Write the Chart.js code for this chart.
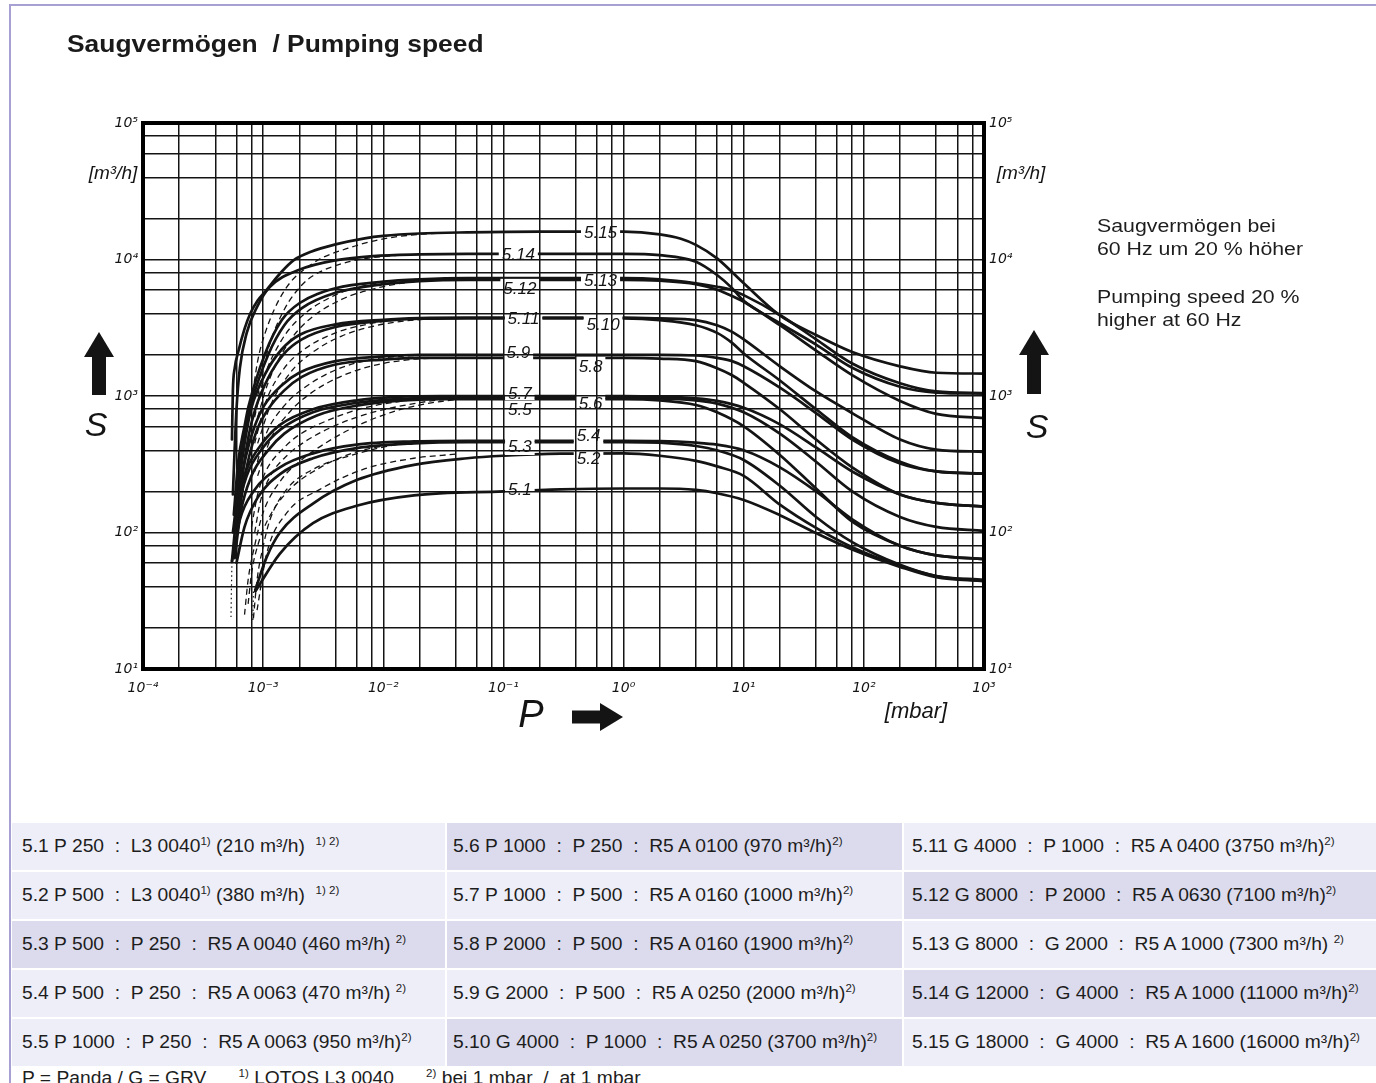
<!DOCTYPE html>
<html lang="de">
<head>
<meta charset="utf-8">
<title>Saugvermögen / Pumping speed</title>
<script src="https://cdn.jsdelivr.net/npm/chart.js@4.4.1/dist/chart.umd.min.js"></script>
<style>
  html, body { margin:0; padding:0; background:#fff; }
  body { width:1376px; height:1083px; overflow:hidden; position:relative;
         font-family:"Liberation Sans", Arial, sans-serif; color:#1d1d1d; }
  #frame { position:absolute; left:9px; top:4px; width:1400px; height:1200px;
           border-left:2px solid #a7a1d3; border-top:2px solid #a7a1d3; }
  #plot { position:absolute; left:0; top:0; }
  .txt { position:absolute; white-space:pre; transform-origin:0 0; }
  #title { left:67px; top:32px; font-size:24px; line-height:24px; font-weight:bold;
           transform:scaleX(1.1); color:#1a1a1a; }
  .note { left:1097px; font-size:18.7px; line-height:23.4px; transform:scaleX(1.14); }
  .cell { position:absolute; height:47px; display:flex; align-items:center; box-sizing:border-box; }
  .cell span { white-space:pre; font-size:17.5px; transform:scaleX(1.1); transform-origin:0 50%;
               display:inline-block; }
  .light { background:#eeeef8; }
  .dark  { background:#dcdbee; }
  sup { font-size:10.5px; vertical-align:7px; line-height:0; }
  #foot { left:22px; top:1068px; font-size:17.5px; line-height:20px; transform:scaleX(1.1); }
</style>
</head>
<body>
<div id="frame"></div>
<canvas id="plot" width="1376" height="800"></canvas>
<div id="title" class="txt">Saugvermögen  / Pumping speed</div>
<div class="txt note" style="top:213.5px">Saugvermögen bei
60 Hz um 20 % höher</div>
<div class="txt note" style="top:285px">Pumping speed 20 %
higher at 60 Hz</div>
<div id="table"></div>
<div id="foot" class="txt">P = Panda / G = GRV      <sup>1)</sup> LOTOS L3 0040      <sup>2)</sup> bei 1 mbar  /  at 1 mbar</div>

<script>
// ---------------------------------------------------------------------------
// Pumping speed S [m³/h] over inlet pressure P [mbar] – points as [P, S]
// ---------------------------------------------------------------------------
const curve5_1 = [[8.6e-4,37],[1.38e-3,70],[2.6e-3,117],[6e-3,157],[1.8e-2,187],[0.1,200],[0.3,207],[1,210],
  [2,210],[4,205],[6,194],[10,173],[20,134],[40,99],[80,75],[200,56],[400,47],[1000,44]];
const curve5_2 = [[8.6e-4,38],[1.07e-3,66],[1.38e-3,100],[2.6e-3,163],[6e-3,242],[1.8e-2,313],[5e-2,350],[0.1,365],[0.3,378],[1,380],
  [2,365],[4,335],[6,305],[10,260],[20,160],[40,108],[80,78],[200,57],[400,48],[1000,44]];
const curve5_3 = [[6e-4,60],[7e-4,110],[9e-4,180],[1.4e-3,270],[2.6e-3,350],[6e-3,415],[1.8e-2,450],[5e-2,460],[1,460],
  [2,455],[4,430],[6,400],[10,340],[20,220],[40,130],[80,85],[200,58],[400,48],[1000,45]];
const curve5_4 = [[5.5e-4,61],[6.4e-4,124],[8.3e-4,200],[1.38e-3,300],[2.6e-3,380],[6e-3,440],[1.8e-2,465],[5e-2,470],[1,470],
  [2,468],[4,455],[6,440],[10,400],[20,300],[40,200],[80,125],[200,80],[400,68],[1000,64]];
const curve5_5 = [[5.8e-4,65],[6.5e-4,140],[8e-4,260],[1.1e-3,400],[1.5e-3,530],[2.8e-3,720],[6e-3,850],[1.3e-2,920],[3e-2,950],[1,950],
  [2,930],[4,860],[6,760],[10,600],[20,370],[40,210],[80,120],[200,80],[400,68],[1000,64]];
const curve5_6 = [[5.5e-4,62],[6e-4,130],[7.3e-4,260],[1e-3,420],[1.4e-3,570],[2.6e-3,760],[6e-3,890],[1.3e-2,950],[3e-2,970],[1,970],
  [2,960],[4,930],[6,880],[10,760],[20,530],[40,330],[80,200],[200,130],[400,110],[1000,103]];
const curve5_7 = [[5.6e-4,100],[6e-4,160],[7.3e-4,290],[1e-3,460],[1.4e-3,620],[2.6e-3,800],[6e-3,930],[1.3e-2,985],[3e-2,1000],[1,1000],
  [2,990],[4,960],[6,920],[10,820],[20,620],[40,420],[80,280],[200,190],[400,165],[1000,155]];
const curve5_8 = [[6e-4,100],[7e-4,250],[8e-4,420],[9e-4,580],[1.1e-3,800],[1.5e-3,1100],[2.1e-3,1380],[4e-3,1700],[1e-2,1850],[2e-2,1900],[1,1900],
  [2,1880],[4,1800],[6,1600],[8,1420],[10,1250],[20,800],[40,480],[80,300],[200,190],[400,165],[1000,155]];
const curve5_9 = [[5.8e-4,100],[6.5e-4,230],[7.5e-4,420],[8.5e-4,600],[1.02e-3,850],[1.43e-3,1200],[2e-3,1480],[4e-3,1800],[1e-2,1950],[2e-2,2000],[1,2000],
  [2,2000],[4,1980],[6,1900],[8,1800],[10,1650],[20,1150],[40,750],[80,480],[200,320],[400,280],[1000,270]];
const curve5_10 = [[6e-4,100],[6.8e-4,280],[7.6e-4,520],[8.6e-4,800],[1.1e-3,1350],[1.5e-3,2050],[2.1e-3,2600],[4e-3,3200],[1e-2,3550],[2e-2,3680],[5e-2,3700],[1,3700],
  [2,3600],[4,3300],[6,2900],[8,2450],[10,2050],[20,1300],[40,800],[80,500],[200,330],[400,280],[1000,270]];
const curve5_11 = [[5.8e-4,100],[6.5e-4,280],[7.2e-4,520],[8e-4,820],[1.04e-3,1450],[1.43e-3,2200],[2e-3,2800],[4e-3,3350],[1e-2,3620],[2e-2,3720],[5e-2,3750],[1,3750],
  [2,3700],[4,3600],[6,3300],[8,2950],[10,2600],[20,1650],[40,1080],[80,750],[200,480],[400,405],[1000,390]];
const curve5_12 = [[5.8e-4,140],[6.4e-4,330],[7.3e-4,650],[8e-4,900],[1.1e-3,2000],[1.5e-3,3300],[2.1e-3,4400],[4e-3,5700],[1e-2,6600],[2e-2,6950],[5e-2,7100],[1,7100],
  [2,7000],[4,6600],[6,6000],[8,5400],[10,4900],[20,3300],[40,2150],[80,1420],[200,920],[400,740],[1000,690]];
const curve5_13 = [[5.7e-4,135],[6.2e-4,330],[7e-4,600],[7.55e-4,835],[1.04e-3,2050],[1.43e-3,3600],[2e-3,4780],[4e-3,6150],[1e-2,6880],[2e-2,7150],[5e-2,7300],[1,7300],
  [2,7160],[4,6700],[6,6320],[8,5960],[10,5480],[20,3920],[40,2600],[80,1730],[200,1240],[400,1080],[1000,1050]];
const curve5_14 = [[5.6e-4,190],[5.8e-4,420],[6e-4,800],[6.4e-4,1600],[7.3e-4,2900],[8.9e-4,4500],[1.14e-3,6300],[2e-3,8400],[4.1e-3,9900],[8.2e-3,10600],[2e-2,10900],[5e-2,11000],[1,11000],
  [2,10750],[4,9640],[6,7700],[8,6170],[10,4980],[20,3420],[40,2380],[80,1610],[200,1170],[400,1060],[1000,1040]];
const curve5_15 = [[5.5e-4,480],[5.6e-4,1100],[5.8e-4,1600],[6.2e-4,2100],[7e-4,3100],[7.8e-4,4000],[9e-4,5000],[1.07e-3,6000],[1.4e-3,8000],[1.8e-3,9900],[2.5e-3,11400],[4e-3,12900],[7e-3,14300],[1e-2,14900],[2e-2,15500],[5e-2,15800],[0.2,16000],[1,16000],
  [2,15300],[3,14200],[4,12800],[6,10200],[10,6700],[20,3900],[40,2800],[80,2100],[200,1650],[400,1480],[1000,1460]];

// alternative run-up curves (dashed)
const runup5_2  = [[8.9e-4,27],[1.07e-3,70],[1.57e-3,139],[2.97e-3,207],[6.8e-3,290],[1.8e-2,350],[4e-2,375]];
const runup5_3  = [[8.3e-4,23.5],[8.9e-4,45],[1e-3,79],[1.14e-3,124],[1.57e-3,207],[2.6e-3,290],[5e-3,360],[1.3e-2,440],[2.5e-2,460]];
const runup5_4  = [[7.5e-4,30],[8e-4,50],[9e-4,80],[1.1e-3,125],[1.6e-3,200],[3e-3,300],[6e-3,390],[1.2e-2,440],[2.5e-2,465]];
const runup5_5  = [[7e-4,25],[7.5e-4,45],[8.5e-4,80],[1e-3,140],[1.4e-3,240],[2e-3,330],[3.7e-3,480],[7e-3,640],[1.35e-2,790],[2.5e-2,890],[4e-2,940]];
const runup5_6  = [[8.5e-4,100],[9.5e-4,170],[1.15e-3,260],[1.6e-3,370],[2.2e-3,460],[3.7e-3,590],[7e-3,730],[1.35e-2,840],[2.5e-2,920],[4e-2,960]];
const runup5_7  = [[8e-4,110],[9e-4,190],[1.05e-3,280],[1.5e-3,420],[2e-3,520],[3.7e-3,680],[7e-3,820],[1.35e-2,910],[2.5e-2,970],[4e-2,1000]];
const runup5_8  = [[9e-4,260],[1.15e-3,480],[1.7e-3,780],[2.5e-3,1050],[4.5e-3,1400],[9e-3,1700],[1.8e-2,1860],[3e-2,1900]];
const runup5_9  = [[8.5e-4,280],[1.05e-3,520],[1.5e-3,850],[2.2e-3,1150],[4e-3,1550],[8e-3,1850],[1.5e-2,1960],[2.5e-2,2000]];
const runup5_10 = [[9e-4,450],[1.15e-3,850],[1.7e-3,1500],[2.5e-3,2050],[4.5e-3,2750],[9e-3,3300],[1.8e-2,3600],[3e-2,3690]];
const runup5_11 = [[8.5e-4,450],[1.05e-3,900],[1.5e-3,1600],[2.2e-3,2200],[4e-3,2900],[8e-3,3400],[1.5e-2,3650],[2.5e-2,3730]];
const runup5_12 = [[9e-4,700],[1.1e-3,1250],[1.6e-3,2400],[2.3e-3,3500],[4.5e-3,5100],[9e-3,6200],[1.6e-2,6800],[2.5e-2,7050]];
const runup5_13 = [[8.5e-4,700],[1e-3,1300],[1.4e-3,2500],[2e-3,3700],[4e-3,5500],[8e-3,6600],[1.5e-2,7050],[2.5e-2,7250]];
const runup5_14 = [[9e-4,1000],[1.1e-3,2200],[1.5e-3,4300],[2.1e-3,6500],[2.6e-3,7600],[5.1e-3,9600],[1.1e-2,10600],[2.5e-2,10950]];
const runup5_15 = [[8e-4,900],[9e-4,1800],[1.04e-3,2900],[1.48e-3,5800],[2.6e-3,9400],[5.1e-3,12100],[9.8e-3,14100],[2e-2,15300],[3.5e-2,15700]];

// lower ends of the run-up curves (dotted)
const tailA = [[5.5e-4,61],[5.45e-4,40],[5.4e-4,24]];
const tailB = [[8.3e-4,37],[8.25e-4,28],[8.2e-4,22]];

const curveNames  = ['5.1','5.2','5.3','5.4','5.5','5.6','5.7','5.8','5.9','5.10','5.11','5.12','5.13','5.14','5.15'];
const ratedSpeed  = [210,380,460,470,950,970,1000,1900,2000,3700,3750,7100,7300,11000,16000]; // m³/h at 1 mbar
const pTickLabels = ['10⁻⁴','10⁻³','10⁻²','10⁻¹','10⁰','10¹','10²','10³'];
const sTickLabels = ['10¹','10²','10³','10⁴','10⁵'];

const solidCurves  = [curve5_1,curve5_2,curve5_3,curve5_4,curve5_5,curve5_6,curve5_7,curve5_8,
                      curve5_9,curve5_10,curve5_11,curve5_12,curve5_13,curve5_14,curve5_15];
const dashedCurves = [runup5_2,runup5_3,runup5_4,runup5_5,runup5_6,runup5_7,runup5_8,
                      runup5_9,runup5_10,runup5_11,runup5_12,runup5_13,runup5_14,runup5_15];
const dottedCurves = [tailA, tailB];

// where each curve name sits on its line: pressure, pixel shift
const tagPlacement = [
  {i:0,  p:0.137, dy:1},  {i:1,  p:0.511, dy:5},  {i:2,  p:0.137, dy:4},
  {i:3,  p:0.511, dy:-5}, {i:4,  p:0.137, dy:10}, {i:5,  p:0.531, dy:5},
  {i:6,  p:0.137, dy:-3}, {i:7,  p:0.531, dy:8},  {i:8,  p:0.133, dy:-3},
  {i:9,  p:0.675, dy:6},  {i:10, p:0.147, dy:1},  {i:11, p:0.137, dy:8},
  {i:12, p:0.643, dy:2},  {i:13, p:0.133, dy:0},  {i:14, p:0.643, dy:1}
];

// ---- table below the diagram ----
const tableRows = [
  ['5.1 P 250  :  L3 0040<sup>1)</sup> (210 m³/h)  <sup>1) 2)</sup>',
   '5.6 P 1000  :  P 250  :  R5 A 0100 (970 m³/h)<sup>2)</sup>',
   '5.11 G 4000  :  P 1000  :  R5 A 0400 (3750 m³/h)<sup>2)</sup>'],
  ['5.2 P 500  :  L3 0040<sup>1)</sup> (380 m³/h)  <sup>1) 2)</sup>',
   '5.7 P 1000  :  P 500  :  R5 A 0160 (1000 m³/h)<sup>2)</sup>',
   '5.12 G 8000  :  P 2000  :  R5 A 0630 (7100 m³/h)<sup>2)</sup>'],
  ['5.3 P 500  :  P 250  :  R5 A 0040 (460 m³/h) <sup>2)</sup>',
   '5.8 P 2000  :  P 500  :  R5 A 0160 (1900 m³/h)<sup>2)</sup>',
   '5.13 G 8000  :  G 2000  :  R5 A 1000 (7300 m³/h) <sup>2)</sup>'],
  ['5.4 P 500  :  P 250  :  R5 A 0063 (470 m³/h) <sup>2)</sup>',
   '5.9 G 2000  :  P 500  :  R5 A 0250 (2000 m³/h)<sup>2)</sup>',
   '5.14 G 12000  :  G 4000  :  R5 A 1000 (11000 m³/h)<sup>2)</sup>'],
  ['5.5 P 1000  :  P 250  :  R5 A 0063 (950 m³/h)<sup>2)</sup>',
   '5.10 G 4000  :  P 1000  :  R5 A 0250 (3700 m³/h)<sup>2)</sup>',
   '5.15 G 18000  :  G 4000  :  R5 A 1600 (16000 m³/h)<sup>2)</sup>']
];
const cellShade = [['light','dark','light'],['light','light','dark'],['dark','dark','light'],
                   ['light','light','dark'],['light','dark','light']];
const colLeft = [12, 447, 904], colWidth = [433, 455, 472], colPad = [10, 6, 8];
const rowTop = [823, 872, 921, 970, 1019];

const tbl = document.getElementById('table');
tableRows.forEach((row, r) => row.forEach((html, c) => {
  const d = document.createElement('div');
  d.className = 'cell ' + cellShade[r][c];
  d.style.left = colLeft[c] + 'px'; d.style.top = rowTop[r] + 'px';
  d.style.width = colWidth[c] + 'px'; d.style.paddingLeft = colPad[c] + 'px';
  d.innerHTML = '<span>' + html + '</span>';
  tbl.appendChild(d);
}));

// ---- grid positions: 1, 2, 4, 6, 8 per decade ----
const gridMantissas = [1, 2, 4, 6, 8];
function gridValues(e0, e1) {
  const v = [];
  for (let e = e0; e < e1; e++) for (const m of gridMantissas) v.push(m * Math.pow(10, e));
  v.push(Math.pow(10, e1));
  return v;
}
function decadeValues(e0, e1) {
  const v = [];
  for (let e = e0; e <= e1; e++) v.push(Math.pow(10, e));
  return v;
}
function decadeLabel(value, labels, e0) {
  const e = Math.log10(value), r = Math.round(e);
  return Math.abs(e - r) < 1e-6 ? labels[r - e0] : '';
}

const toXY = pts => pts.map(([p, s]) => ({x: p, y: s}));
const INK = '#141414';
const datasets = [];
dottedCurves.forEach(d => datasets.push({data: toXY(d), borderColor: INK, borderWidth: 1.2,
  borderDash: [1.5, 3], tension: 0, pointRadius: 0}));
dashedCurves.forEach(d => datasets.push({data: toXY(d), borderColor: INK, borderWidth: 1.3,
  borderDash: [6, 4], cubicInterpolationMode: 'monotone', pointRadius: 0}));
solidCurves.forEach((d, i) => datasets.push({label: curveNames[i], data: toXY(d), borderColor: INK,
  borderWidth: 2.7, cubicInterpolationMode: 'monotone', pointRadius: 0, borderCapStyle: 'round'}));

const TAG_FONT = 'italic 17px "Liberation Sans", Arial, sans-serif';
function tagBoxes(chart) {
  const {ctx, scales: {x, y}} = chart;
  ctx.save(); ctx.font = TAG_FONT;
  const boxes = tagPlacement.map(t => {
    const text = curveNames[t.i];
    const w = ctx.measureText(text).width + 6;
    const cx = x.getPixelForValue(t.p);
    const cy = y.getPixelForValue(ratedSpeed[t.i]) + t.dy;
    return {text, cx, cy, w, h: 18};
  });
  ctx.restore();
  return boxes;
}

function upArrow(ctx, cx, top, bottom) {
  ctx.beginPath();
  ctx.moveTo(cx, top); ctx.lineTo(cx + 15, top + 25); ctx.lineTo(cx - 15, top + 25); ctx.closePath();
  ctx.fill();
  ctx.fillRect(cx - 7, top + 24, 14, bottom - top - 24);
}
function rightArrow(ctx, x0, x1, cy) {
  ctx.fillRect(x0, cy - 6.5, x1 - x0 - 22, 13);
  ctx.beginPath();
  ctx.moveTo(x1, cy); ctx.lineTo(x1 - 23, cy - 14); ctx.lineTo(x1 - 23, cy + 14); ctx.closePath();
  ctx.fill();
}

const diagramPlugin = {
  id: 'diagram',
  beforeDatasetsDraw(chart) {
    // cut the curves where the curve names are written
    const ctx = chart.ctx;
    chart.$tags = tagBoxes(chart);
    ctx.save();
    ctx.beginPath();
    ctx.rect(0, 0, chart.width, chart.height);
    chart.$tags.forEach(b => ctx.rect(b.cx - b.w / 2, b.cy - b.h / 2, b.w, b.h));
    ctx.clip('evenodd');
  },
  afterDatasetsDraw(chart) {
    const {ctx, chartArea: a} = chart;
    ctx.restore();
    ctx.save();
    ctx.fillStyle = INK; ctx.font = TAG_FONT;
    ctx.textAlign = 'center'; ctx.textBaseline = 'middle';
    chart.$tags.forEach(b => ctx.fillText(b.text, b.cx, b.cy + 1));
    ctx.lineWidth = 4; ctx.strokeStyle = '#000';
    ctx.strokeRect(a.left, a.top, a.right - a.left, a.bottom - a.top);
    ctx.restore();
  },
  afterDraw(chart) {
    const {ctx, chartArea: a} = chart;
    ctx.save();
    ctx.fillStyle = INK;
    ctx.textAlign = 'center'; ctx.textBaseline = 'middle';
    ctx.font = 'italic 19px "Liberation Sans", Arial, sans-serif';
    ctx.fillText('[m³/h]', a.left - 30, 174);
    ctx.fillText('[m³/h]', a.right + 37, 174);
    ctx.font = 'italic 34px "Liberation Sans", Arial, sans-serif';
    ctx.fillText('S', a.left - 47, 427);
    ctx.fillText('S', a.right + 53, 429);
    ctx.font = 'italic 38px "Liberation Sans", Arial, sans-serif';
    ctx.fillText('P', 531, 716);
    ctx.font = 'italic 22px "Liberation Sans", Arial, sans-serif';
    ctx.fillText('[mbar]', 916, 712);
    upArrow(ctx, a.left - 44, 332, 395);
    upArrow(ctx, a.right + 50, 330, 394);
    rightArrow(ctx, 572, 623, 717);
    ctx.restore();
  }
};

const tickFont = {family: '"DejaVu Sans", sans-serif', size: 14, style: 'italic'};
const gridStyle = {color: '#141414', lineWidth: 1.5, drawTicks: false};

new Chart(document.getElementById('plot'), {
  type: 'line',
  data: {datasets},
  options: {
    responsive: false, animation: false, devicePixelRatio: 1,
    layout: {padding: {top: 123, left: 0, right: 0, bottom: 0}},
    plugins: {legend: {display: false}, title: {display: false}, tooltip: {enabled: false}},
    events: [],
    scales: {
      x: {
        type: 'logarithmic', position: 'bottom', min: 1e-4, max: 1e3,
        afterBuildTicks: s => { s.ticks = gridValues(-4, 3).map(v => ({value: v})); },
        afterFit: s => { s.height = 131; },
        grid: gridStyle, border: {display: false},
        ticks: {autoSkip: false, maxRotation: 0, padding: 11, color: INK, font: tickFont,
                callback: v => decadeLabel(v, pTickLabels, -4)}
      },
      y: {
        type: 'logarithmic', position: 'left', min: 10, max: 1e5,
        afterBuildTicks: s => { s.ticks = gridValues(1, 5).map(v => ({value: v})); },
        afterFit: s => { s.width = 143; },
        grid: gridStyle, border: {display: false},
        ticks: {autoSkip: false, padding: 5, color: INK, font: tickFont,
                callback: v => decadeLabel(v, sTickLabels, 1)}
      },
      y2: {
        type: 'logarithmic', position: 'right', min: 10, max: 1e5,
        afterBuildTicks: s => { s.ticks = decadeValues(1, 5).map(v => ({value: v})); },
        afterFit: s => { s.width = 392; },
        grid: {display: false, drawTicks: false}, border: {display: false},
        ticks: {autoSkip: false, padding: 5, color: INK, font: tickFont,
                callback: v => decadeLabel(v, sTickLabels, 1)}
      }
    }
  },
  plugins: [diagramPlugin]
});
</script>
</body>
</html>
